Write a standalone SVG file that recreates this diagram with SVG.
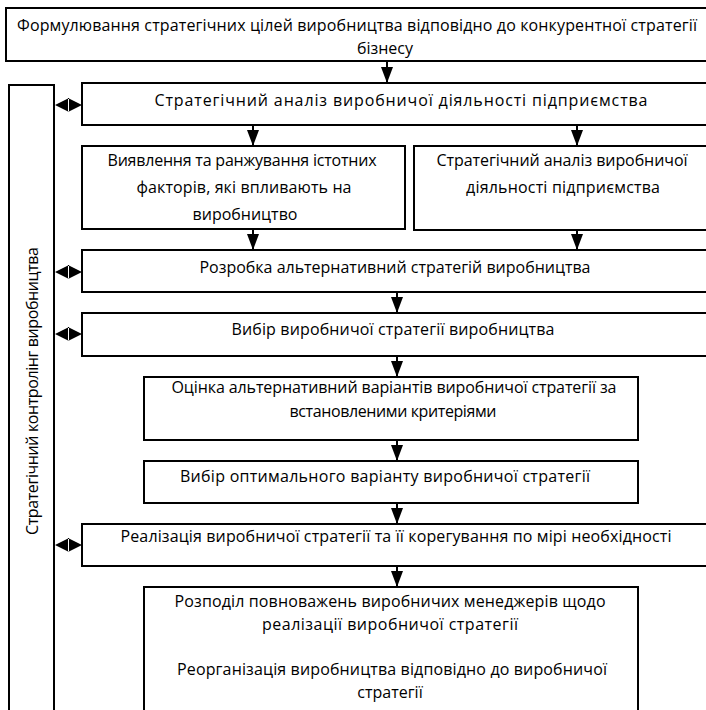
<svg xmlns="http://www.w3.org/2000/svg" width="706" height="710" viewBox="0 0 706 710">
<style>
rect{fill:#fff;stroke:#000;stroke-width:2}
text{font-family:"Open Sans","Noto Sans","Liberation Sans",sans-serif;font-size:16px;fill:#000;text-anchor:middle}
.ln{stroke:#000;stroke-width:2;fill:none}
.hd{fill:#000;stroke:none}
</style>
<defs>
<marker id="ah" viewBox="0 0 16 12" refX="16" refY="6" markerWidth="16" markerHeight="12" markerUnits="userSpaceOnUse" orient="auto">
<path d="M0,0 L16,6 L0,12 Z" fill="#000"/>
</marker>
</defs>
<rect width="706" height="710" style="fill:#fff;stroke:none"/>
<g id="n1"><rect x="6" y="8" width="702" height="53"/>
<text x="357" y="31" textLength="680">Формулювання стратегічних цілей виробництва відповідно до конкурентної стратегії</text>
<text x="385" y="54">бізнесу</text></g>
<g id="bar"><rect x="9" y="85" width="45" height="635"/>
<text transform="translate(38,391) rotate(-90)" textLength="288">Стратегічний контролінг виробництва</text></g>
<g id="n2"><rect x="82" y="83" width="626" height="42"/>
<text x="401" y="106" textLength="493">Стратегічний аналіз виробничої діяльності підприємства</text></g>
<g id="n3a"><rect x="82" y="146" width="323" height="83"/>
<text x="242" y="166" textLength="269">Виявлення та ранжування істотних</text>
<text x="244" y="193" textLength="215">факторів, які впливають на</text>
<text x="245" y="220">виробництво</text></g>
<g id="n3b"><rect x="414" y="146" width="294" height="84"/>
<text x="562" y="166" textLength="251">Стратегічний аналіз виробничої</text>
<text x="563" y="193" textLength="194">діяльності підприємства</text></g>
<g id="n4"><rect x="82" y="250" width="626" height="42"/>
<text x="395" y="273" textLength="391">Розробка альтернативний стратегій виробництва</text></g>
<g id="n5"><rect x="82" y="313" width="626" height="43"/>
<text x="393" y="335" textLength="323">Вибір виробничої стратегії виробництва</text></g>
<g id="n6"><rect x="144" y="377" width="494" height="63"/>
<text x="394" y="393" textLength="445">Оцінка альтернативний варіантів виробничої стратегії за</text>
<text x="393" y="417" textLength="207">встановленими критеріями</text></g>
<g id="n7"><rect x="144" y="461" width="494" height="42"/>
<text x="385" y="482" textLength="410">Вибір оптимального варіанту виробничої стратегії</text></g>
<g id="n8"><rect x="82" y="524" width="626" height="42"/>
<text x="396" y="542" textLength="551">Реалізація виробничої стратегії та її  корегування по мірі необхідності</text></g>
<g id="n9"><rect x="144" y="587" width="494" height="135"/>
<text x="390" y="607" textLength="431">Розподіл повноважень виробничих менеджерів щодо</text>
<text x="390" y="630" textLength="256">реалізації виробничої стратегії</text>
<text x="392" y="675" textLength="430">Реорганізація виробництва відповідно до виробничої</text>
<text x="390" y="698">стратегії</text></g>
<g id="connectors">
<line class="ln" x1="387" y1="61" x2="387" y2="83" marker-end="url(#ah)"/>
<line class="ln" x1="253" y1="125" x2="253" y2="146" marker-end="url(#ah)"/>
<line class="ln" x1="577" y1="125" x2="577" y2="146" marker-end="url(#ah)"/>
<line class="ln" x1="253" y1="229" x2="253" y2="250" marker-end="url(#ah)"/>
<line class="ln" x1="577" y1="230" x2="577" y2="250" marker-end="url(#ah)"/>
<line class="ln" x1="397" y1="292" x2="397" y2="313" marker-end="url(#ah)"/>
<line class="ln" x1="397" y1="356" x2="397" y2="377" marker-end="url(#ah)"/>
<line class="ln" x1="397" y1="440" x2="397" y2="461" marker-end="url(#ah)"/>
<line class="ln" x1="397" y1="503" x2="397" y2="524" marker-end="url(#ah)"/>
<line class="ln" x1="397" y1="566" x2="397" y2="587" marker-end="url(#ah)"/>
<path class="hd" d="M55,105 L69,98 L69,112 Z M82,105 L68,98 L68,112 Z"/>
<path class="hd" d="M55,272 L69,265 L69,279 Z M82,272 L68,265 L68,279 Z"/>
<path class="hd" d="M55,334 L69,327 L69,341 Z M82,334 L68,327 L68,341 Z"/>
<path class="hd" d="M55,545 L69,538 L69,552 Z M82,545 L68,538 L68,552 Z"/>
</g>
</svg>
